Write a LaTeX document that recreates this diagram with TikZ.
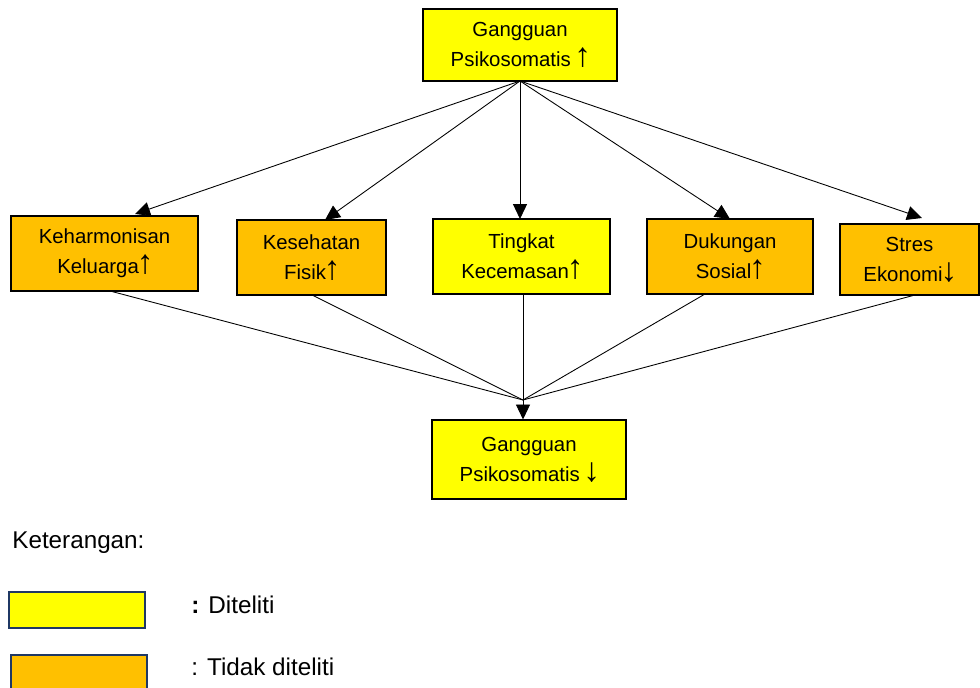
\documentclass[tikz,border=0pt]{standalone}
\usepackage{fontspec}
\setmainfont{Liberation Sans}
\usetikzlibrary{arrows.meta}

\definecolor{kuning}{RGB}{255,255,0}
\definecolor{oranye}{RGB}{255,192,0}
\definecolor{birutua}{RGB}{31,56,100}

% panah naik / turun di dalam teks
\newcommand{\naik}{{\kern-1.2pt\fontsize{19}{17}\selectfont ↑\kern-1pt}}
\newcommand{\turun}{{\kern-1.2pt\fontsize{19}{17}\selectfont ↓\kern-1pt}}

\tikzset{
  kotak/.style={draw=black, line width=0.6pt, align=center, inner sep=0pt,
    font=\fontsize{11.6}{17}\selectfont},
  diteliti/.style={kotak, fill=kuning},
  tidakditeliti/.style={kotak, fill=oranye},
  panah/.style={-{Triangle[length=8.5pt,width=8pt]}, line width=0.5pt},
  garis/.style={line width=0.5pt},
  legenda/.style={draw=birutua, line width=1.2pt, minimum width=2.72cm,
    minimum height=0.72cm, inner sep=0pt},
  teks/.style={anchor=west, inner sep=0pt, font=\fontsize{13.8}{16}\selectfont}
}

\begin{document}
\begin{tikzpicture}[x=0.02cm, y=-0.02cm]
\useasboundingbox (0,0) rectangle (980,688);

% kotak atas
\node[diteliti, minimum width=3.88cm, minimum height=1.44cm] (atas) at (520,45)
  {Gangguan\\Psikosomatis \naik};

% kotak tengah
\node[tidakditeliti, minimum width=3.74cm, minimum height=1.5cm] (harmonis) at (104.5,253.5)
  {Keharmonisan\\Keluarga\naik};
\node[tidakditeliti, minimum width=2.98cm, minimum height=1.5cm] (fisik) at (311.5,257.5)
  {Kesehatan\\Fisik\naik};
\node[diteliti, minimum width=3.54cm, minimum height=1.5cm] (cemas) at (521.5,256.5)
  {Tingkat\\Kecemasan\naik};
\node[tidakditeliti, minimum width=3.32cm, minimum height=1.5cm] (sosial) at (730,256.5)
  {Dukungan\\Sosial\naik};
\node[tidakditeliti, minimum width=2.78cm, minimum height=1.42cm] (ekonomi) at (909.5,259.5)
  {Stres\\Ekonomi\turun};

% kotak bawah
\node[diteliti, minimum width=3.88cm, minimum height=1.58cm] (bawah) at (529,459.5)
  {Gangguan\\Psikosomatis \turun};

% panah dari atas
\coordinate (pangkal) at (520,81);
\draw[panah] (pangkal) -- (135,214);
\draw[panah] (pangkal) -- (325,220);
\draw[panah] (pangkal) -- (520,219);
\draw[panah] (pangkal) -- (730,219);
\draw[panah] (pangkal) -- (922,218);

% garis ke titik temu
\coordinate (temu) at (523,400);
\draw[garis] (110,291) -- (temu);
\draw[garis] (312,295) -- (temu);
\draw[garis] (523,294) -- (temu);
\draw[garis] (705,294) -- (temu);
\draw[garis] (915,295) -- (temu);
\draw[panah] (temu) -- (temu |- bawah.north);

% keterangan
\node[teks] (ket) at (12,543) {Keterangan:};
\node[legenda, fill=kuning] (leg1) at (77,610) {};
\node[legenda, fill=oranye] (leg2) at (79,673) {};
\node[teks] (ket1) at (191,605) {\textbf{:} Diteliti};
\node[teks] (ket2) at (191,667) {: Tidak diteliti};

\end{tikzpicture}
\end{document}
